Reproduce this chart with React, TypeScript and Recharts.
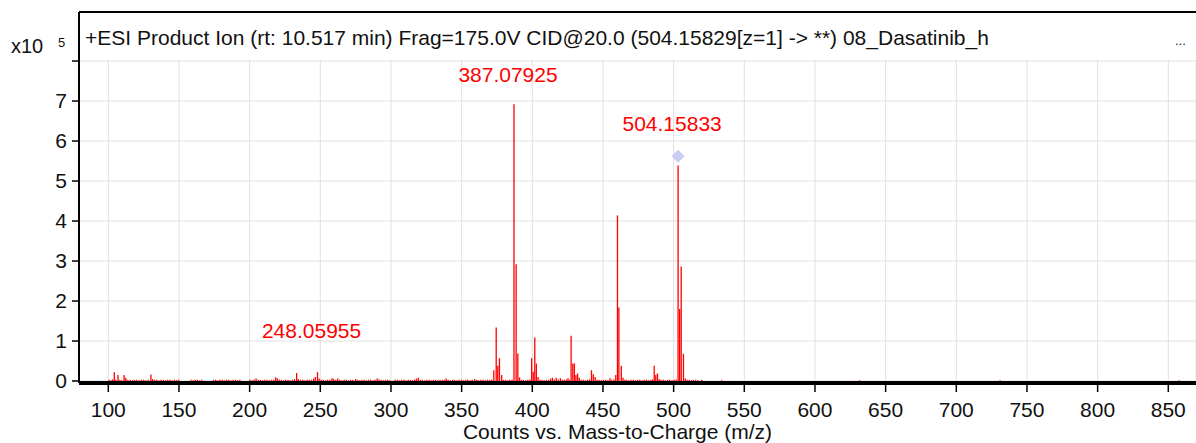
import { ComposedChart, Bar, Scatter, XAxis, YAxis, CartesianGrid, ReferenceArea, ReferenceLine } from 'recharts';

const FONT = '"Liberation Sans", Arial, sans-serif';

// m/z of each centroid and its abundance in units of 10^5 counts
const mzValues = [
  100.5, 102.0, 103.1, 104.3, 105.4, 106.9, 108.2, 109.5, 111.2, 112.4, 113.8, 115.5, 117.2, 118.6, 120.1, 121.8,
  123.4, 125.0, 126.6, 128.3, 130.2, 131.4, 132.8, 134.3, 135.9, 137.4, 139.0, 140.6, 142.1, 143.7, 145.2, 146.8,
  148.4, 149.9, 158.5, 160.0, 161.6, 163.1, 164.7, 166.2, 174.5, 176.0, 177.6, 179.1, 180.7, 182.2, 183.8, 185.3,
  186.9, 188.4, 190.0, 191.5, 193.1, 200.2, 201.8, 203.3, 204.6, 206.2, 207.7, 209.3, 210.8, 212.4, 213.9, 215.5,
  217.0, 218.4, 219.6, 221.0, 222.5, 224.1, 225.6, 227.2, 228.7, 230.3, 231.8, 233.3, 234.5, 236.0, 237.6, 239.1,
  240.7, 242.2, 243.8, 245.3, 246.5, 248.06, 249.2, 250.6, 252.1, 253.7, 255.2, 256.8, 258.3, 259.5, 261.0, 262.4,
  263.8, 265.3, 266.9, 268.4, 270.0, 271.5, 273.1, 275.0, 276.4, 278.0, 279.5, 281.1, 282.6, 284.2, 285.7, 287.3,
  288.8, 290.3, 291.6, 293.1, 294.7, 296.2, 297.8, 299.3, 303.0, 304.5, 306.1, 307.6, 309.2, 310.7, 312.3, 313.8,
  315.4, 316.9, 318.1, 319.4, 320.8, 322.3, 323.9, 325.4, 327.0, 328.5, 330.1, 331.6, 333.2, 334.7, 336.3, 337.8,
  339.1, 340.5, 342.0, 343.6, 345.1, 346.7, 348.2, 349.8, 351.3, 352.9, 354.4, 356.0, 357.5, 359.2, 360.6, 362.1,
  363.7, 365.2, 366.8, 368.3, 369.9, 371.4, 372.8, 374.5, 375.6, 376.8, 378.4, 379.6, 381.1, 382.7, 384.2, 385.7,
  387.08, 388.6, 389.8, 391.0, 392.3, 393.8, 395.4, 396.9, 398.4, 399.6, 400.7, 401.8, 402.9, 404.1, 405.4, 406.9,
  408.5, 410.0, 411.6, 413.0, 414.3, 415.6, 417.0, 418.4, 419.9, 421.2, 422.7, 424.1, 425.3, 426.4, 427.5, 428.7,
  429.8, 430.9, 432.1, 433.3, 434.6, 436.1, 437.7, 439.2, 440.6, 441.9, 443.2, 444.5, 445.8, 447.3, 448.9, 450.4,
  452.0, 453.5, 455.0, 456.3, 457.8, 459.1, 460.3, 461.3, 463.0, 464.2, 465.5, 466.8, 468.4, 469.9, 471.5, 473.0,
  474.6, 476.1, 477.7, 479.2, 480.8, 482.3, 484.0, 485.2, 486.3, 487.4, 488.6, 489.8, 491.1, 492.7, 494.2, 495.8,
  497.3, 498.9, 500.4, 501.8, 503.2, 504.3, 505.4, 507.0, 508.3, 509.6, 511.0, 512.6, 514.0, 515.6, 517.2, 519.9,
  534.0, 631.6, 731.0, 857.5,
];
const abundance = [
  0.03, 0.02, 0.04, 0.22, 0.03, 0.15, 0.03, 0.02, 0.15, 0.08, 0.03, 0.03, 0.02, 0.03, 0.03, 0.02,
  0.03, 0.03, 0.02, 0.03, 0.16, 0.05, 0.03, 0.03, 0.02, 0.03, 0.03, 0.02, 0.03, 0.03, 0.02, 0.03,
  0.02, 0.03, 0.03, 0.02, 0.03, 0.03, 0.02, 0.03, 0.03, 0.03, 0.02, 0.03, 0.03, 0.02, 0.03, 0.03,
  0.02, 0.03, 0.03, 0.02, 0.03, 0.03, 0.02, 0.03, 0.06, 0.03, 0.03, 0.02, 0.03, 0.03, 0.02, 0.03,
  0.03, 0.09, 0.07, 0.04, 0.03, 0.02, 0.03, 0.03, 0.02, 0.03, 0.05, 0.20, 0.05, 0.03, 0.03, 0.02,
  0.03, 0.03, 0.03, 0.06, 0.10, 0.22, 0.06, 0.03, 0.03, 0.02, 0.03, 0.03, 0.07, 0.05, 0.03, 0.06,
  0.03, 0.02, 0.03, 0.03, 0.02, 0.03, 0.03, 0.05, 0.03, 0.02, 0.03, 0.03, 0.02, 0.03, 0.03, 0.02,
  0.03, 0.06, 0.04, 0.03, 0.02, 0.03, 0.03, 0.02, 0.03, 0.03, 0.02, 0.03, 0.03, 0.02, 0.03, 0.03,
  0.02, 0.04, 0.06, 0.08, 0.03, 0.03, 0.02, 0.03, 0.03, 0.02, 0.03, 0.03, 0.02, 0.03, 0.03, 0.03,
  0.06, 0.03, 0.02, 0.03, 0.03, 0.02, 0.03, 0.03, 0.02, 0.03, 0.03, 0.02, 0.03, 0.05, 0.03, 0.02,
  0.03, 0.03, 0.02, 0.03, 0.03, 0.04, 0.27, 1.34, 0.38, 0.57, 0.15, 0.03, 0.03, 0.02, 0.03, 0.04,
  6.92, 2.92, 0.69, 0.09, 0.03, 0.03, 0.02, 0.03, 0.04, 0.57, 0.23, 1.09, 0.44, 0.10, 0.03, 0.03,
  0.02, 0.03, 0.03, 0.06, 0.08, 0.04, 0.08, 0.04, 0.07, 0.03, 0.03, 0.04, 0.07, 0.03, 1.13, 0.44,
  0.44, 0.15, 0.19, 0.08, 0.03, 0.03, 0.02, 0.03, 0.04, 0.27, 0.17, 0.10, 0.03, 0.03, 0.02, 0.03,
  0.03, 0.02, 0.07, 0.03, 0.04, 0.15, 4.14, 1.84, 0.38, 0.08, 0.03, 0.03, 0.02, 0.03, 0.03, 0.02,
  0.03, 0.03, 0.02, 0.03, 0.03, 0.02, 0.03, 0.04, 0.38, 0.15, 0.19, 0.05, 0.03, 0.03, 0.02, 0.03,
  0.03, 0.02, 0.03, 0.04, 5.39, 1.80, 2.86, 0.68, 0.06, 0.03, 0.03, 0.02, 0.03, 0.03, 0.02, 0.03,
  0.02, 0.02, 0.02, 0.02,
];

const xTicks = [100, 150, 200, 250, 300, 350, 400, 450, 500, 550, 600, 650, 700, 750, 800, 850];
const yTicks = [0, 1, 2, 3, 4, 5, 6, 7, 8];

// peak annotations: where the peak sits and where its label baseline is (10^5 counts)
const labelMz = [248.06, 387.08, 503.2];
const labelText = ['248.05955', '387.07925', '504.15833'];
const labelLevel = [1.075, 7.475, 6.25];

// precursor ion marker
const precursorMz = [503.2];
const precursorLevel = [5.62];

const title = '+ESI Product Ion (rt: 10.517 min) Frag=175.0V CID@20.0 (504.15829[z=1] -> **) 08_Dasatinib_h';

const X_MIN = 79.27;
const X_MAX = 869.6;
const Y_MIN = -0.05;
const Y_MAX = 9.225;

const data = mzValues.map((mz, i) => ({ mz, counts: abundance[i] }));
const labels = labelMz.map((mz, i) => ({ mz, level: labelLevel[i], text: labelText[i] }));
const precursor = precursorMz.map((mz, i) => ({ mz, level: precursorLevel[i] }));

const PeakLabel = (props: any) => (
  <text x={props.cx - 6} y={props.cy} textAnchor="middle" fill="#ff0000" fontSize={21} fontFamily={FONT}>
    {props.payload.text}
  </text>
);

const Diamond = (props: any) => {
  const { cx, cy } = props;
  const r = 6.5;
  return <polygon points={`${cx},${cy - r} ${cx + r},${cy} ${cx},${cy + r} ${cx - r},${cy}`} fill="#c9ccf3" />;
};

const TitleLabel = (props: any) => {
  const vb = props.viewBox;
  return (
    <g fontFamily={FONT} fill="#111">
      <text x={vb.x + 5} y={vb.y + 33} fontSize={21}>{title}</text>
      <text x={vb.x + vb.width - 21} y={vb.y + 33} fontSize={13}>...</text>
    </g>
  );
};

const ScaleLabel = (props: any) => {
  const vb = props.viewBox;
  return (
    <g fontFamily={FONT} fill="#111">
      <text x={vb.x + 11} y={vb.y + 41} fontSize={20}>x10</text>
      <text x={vb.x + 58} y={vb.y + 35} fontSize={13}>5</text>
    </g>
  );
};

const AxisTitle = (props: any) => {
  const vb = props.viewBox;
  return (
    <text x={vb.x + vb.width / 2 - 20} y={vb.y + vb.height - 4} textAnchor="middle" fontSize={21} fontFamily={FONT} fill="#111">
      Counts vs. Mass-to-Charge (m/z)
    </text>
  );
};

export default function App() {
  return (
    <div style={{ position: 'absolute', left: 0, top: 0, width: 1196, height: 443, background: '#fff' }}>
      <ComposedChart width={1196} height={443} data={data} margin={{ top: 12, right: 0, bottom: 0, left: 0 }}>
        <CartesianGrid stroke="#e0e0e0" strokeWidth={1} />
        <XAxis
          dataKey="mz"
          type="number"
          domain={[X_MIN, X_MAX]}
          allowDataOverflow
          ticks={xTicks}
          interval={0}
          height={60}
          tickSize={9}
          tickMargin={10}
          axisLine={{ stroke: '#000', strokeWidth: 4 }}
          tickLine={{ stroke: '#000', strokeWidth: 1.5 }}
          tick={{ fill: '#111', fontSize: 21, fontFamily: FONT }}
          label={AxisTitle}
        />
        <YAxis
          type="number"
          domain={[Y_MIN, Y_MAX]}
          allowDataOverflow
          ticks={yTicks}
          interval={0}
          width={79}
          tickSize={7}
          tickMargin={5}
          tickFormatter={(v: number) => (v === 8 ? '' : String(v))}
          axisLine={{ stroke: '#000', strokeWidth: 2 }}
          tickLine={{ stroke: '#000', strokeWidth: 1.5 }}
          tick={{ fill: '#111', fontSize: 21, fontFamily: FONT }}
          label={ScaleLabel}
        />
        <ReferenceArea x1={80} x2={X_MAX} y1={8.03} y2={Y_MAX} fill="#fff" fillOpacity={1} stroke="none" label={TitleLabel} />
        <ReferenceLine y={Y_MAX} stroke="#000" strokeWidth={2} />
        <Bar dataKey="counts" fill="#ff0000" barSize={1.3} isAnimationActive={false} />
        <Scatter data={precursor} dataKey="level" shape={Diamond} isAnimationActive={false} />
        <Scatter data={labels} dataKey="level" shape={PeakLabel} isAnimationActive={false} />
      </ComposedChart>
    </div>
  );
}
